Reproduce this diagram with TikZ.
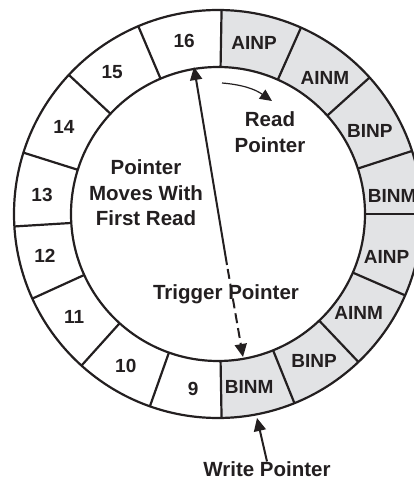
\documentclass[tikz,border=0pt]{standalone}
\usepackage{fontspec}
\setmainfont{Liberation Sans}
\usetikzlibrary{arrows.meta}

\definecolor{ink}{RGB}{35,31,32}
\definecolor{cellgrey}{RGB}{226,227,229}

\begin{document}
\begin{tikzpicture}[x=1pt,y=1pt]
	\tikzset{>={Triangle[length=13pt,width=12pt]},
		ring/.style={line width=2.2pt, draw=ink},
		slot/.style={inner sep=0pt, text=ink, font=\fontsize{19}{22}\selectfont\bfseries},
		tag/.style={inner sep=0pt, text=ink, align=center, font=\fontsize{20.5}{25.5}\selectfont\bfseries},
		ptr/.style={->, line width=2pt, draw=ink}}

	\useasboundingbox (0,0) rectangle (414,480);
	\clip (0,0) rectangle (414,480);

	\begin{scope}[shift={(218,266)}]
		% shaded half of the buffer
		\fill[cellgrey] (89:204) arc[start angle=89, end angle=-89, radius=204]
			-- (-89:147) arc[start angle=-89, end angle=89, radius=147] -- cycle;
		\draw[ring] (0,0) circle[radius=204] (0,0) circle[radius=147];
		\foreach \a in {89,66,42,18,0,-23.5,-46.5,-68,-89,-109.5,-132,-155.5,-176.5,162.5,137,113}
			\draw[ring] (\a:147) -- (\a:204);

		\node[slot] (s16) at (101.1:176) {16};
		\node[slot] (g1) at (78.1:175) {AINP};
		\node[slot] (g2) at (51.8:173) {AINM};
		\node[slot] (g3) at (28.6:173) {BINP};
		\node[slot] (g4) at (5.9:175) {BINM};
		\node[slot] (g5) at (-14.3:174) {AINP};
		\node[slot] (g6) at (-35.1:172) {AINM};
		\node[slot] (g7) at (-56.9:176) {BINP};
		\node[slot] (g8) at (-79.8:176) {BINM};
		\node[slot] (s9) at (-98.1:177) {9};
		\node[slot] (s10) at (-121.2:178) {10};
		\node[slot] (s11) at (-144.4:177) {11};
		\node[slot] (s12) at (-166.4:178) {12};
		\node[slot] (s13) at (173.8:177) {13};
		\node[slot] (s14) at (150.5:177) {14};
		\node[slot] (s15) at (126.7:177) {15};
	\end{scope}

	\node[tag] (first) at (146,287) {Pointer\\Moves With\\First Read};
	\node[tag] (read) at (270,348) {Read\\Pointer};
	\node[tag, anchor=base] (trig) at (226,180) {Trigger Pointer};
	\node[tag, anchor=base] (write) at (267,3.5) {Write Pointer};

	\coordinate (rtip) at (194,413);
	\coordinate (ttip) at (243,123);
	\coordinate (split) at (227,215);
	\coordinate (wtip) at (257,62);
	\coordinate (rfrom) at (222,397);
	\coordinate (rto) at (272,379);

	\draw[ptr] (split) -- (rtip);
	\draw[ptr, dash pattern=on 10pt off 5pt, dash phase=11pt] (split) -- (ttip);
	\draw[ptr] (write.north) -- (wtip);
	\draw[->, line width=1.2pt, draw=ink, >={Triangle[length=12pt,width=11pt]}] (rfrom) to[bend left=15] (rto);
\end{tikzpicture}
\end{document}
